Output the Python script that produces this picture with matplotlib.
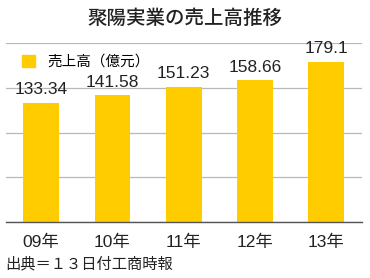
import matplotlib.pyplot as plt
from matplotlib.patches import Patch

plt.rcParams['font.family'] = ['Liberation Sans', 'Noto Sans CJK JP']

years = ['09年', '10年', '11年', '12年', '13年']
sales = [133.34, 141.58, 151.23, 158.66, 179.1]
sales_labels = ['133.34', '141.58', '151.23', '158.66', '179.1']

bar_color = '#FFCC00'

fig = plt.figure(figsize=(3.7, 2.78), dpi=100)
ax = fig.add_axes([0.015, 0.2014, 0.963, 0.6436])

bars = ax.bar(range(len(years)), sales, width=0.5, color=bar_color, zorder=2)
ax.bar_label(bars, labels=sales_labels, padding=4, fontsize=12.5, color='#222222')

ax.set_xlim(-0.5, len(years) - 0.5)
ax.set_ylim(0, 200)
ax.set_yticks([0, 50, 100, 150, 200])
ax.yaxis.grid(True, color='#b8b8b8', linewidth=0.9, zorder=0)
ax.tick_params(axis='y', length=0, labelleft=False)
ax.set_xticks(range(len(years)))
ax.set_xticklabels(years, fontsize=12.5, color='#222222')
ax.tick_params(axis='x', length=0, pad=9)

for s in ['top', 'right', 'left']:
    ax.spines[s].set_visible(False)
ax.spines['bottom'].set_color('#555555')
ax.spines['bottom'].set_linewidth(1.0)

handle = Patch(color=bar_color)
ax.legend([handle], ['売上高（億元）'], loc='upper left', bbox_to_anchor=(0.022, 0.985),
          frameon=False, fontsize=10.5, handlelength=0.9, handleheight=0.9,
          handletextpad=0.8, borderaxespad=0.2)

fig.text(0.5, 0.933, '聚陽実業の売上高推移', ha='center', va='center',
         fontsize=14, fontweight='medium', color='#222222')
fig.text(0.013, 0.05, '出典＝１３日付工商時報', ha='left', va='center',
         fontsize=11, color='#222222')

fig.savefig('out.png', dpi=100)
